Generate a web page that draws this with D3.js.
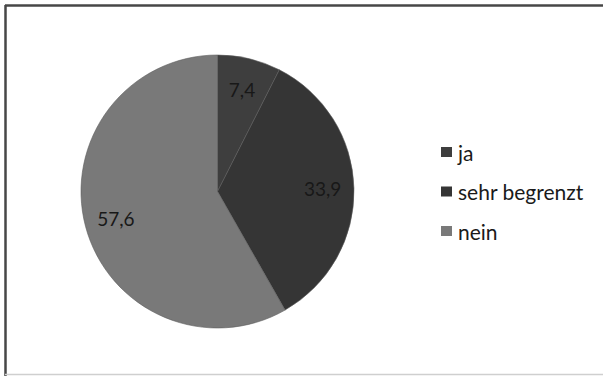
<!DOCTYPE html>
<html>
<head>
<meta charset="utf-8">
<script src="https://cdn.jsdelivr.net/npm/d3@7"></script>
<style>
  body { margin: 0; background: #fff; }
  svg { display: block; }
</style>
</head>
<body>
<script>
var categories = ["ja", "sehr begrenzt", "nein"];
var values = [7.4, 33.9, 57.6];
var labels = ["7,4", "33,9", "57,6"];
var colors = ["#3e3e3e", "#353535", "#797979"];

var width = 603, height = 376;
var svg = d3.select("body").append("svg").attr("width", width).attr("height", height);

// frame (dark top/left, pale bottom like the scan)
svg.append("line").attr("x1", 5).attr("y1", 5.5).attr("x2", 603).attr("y2", 5.5)
    .attr("stroke", "#474747").attr("stroke-width", 2.5);
svg.append("line").attr("x1", 5.5).attr("y1", 5).attr("x2", 5.5).attr("y2", 376)
    .attr("stroke", "#474747").attr("stroke-width", 2.5);
svg.append("line").attr("x1", 5).attr("y1", 374.5).attr("x2", 603).attr("y2", 374.5)
    .attr("stroke", "#cfcfcf").attr("stroke-width", 1.5);

var cx = 217.5, cy = 191.5, r = 136.5;

var pie = d3.pie().sort(null).value(function(d){ return d; });
var arcs = pie(values);
var arc = d3.arc().innerRadius(0).outerRadius(r);
var labelArc = d3.arc().innerRadius(r * 0.77).outerRadius(r * 0.77);

var g = svg.append("g").attr("transform", "translate(" + cx + "," + cy + ")");

g.selectAll("path")
  .data(arcs)
  .enter().append("path")
    .attr("d", arc)
    .attr("fill", function(d, i){ return colors[i]; })
    .attr("stroke", "#5c5c5c")
    .attr("stroke-width", 0.6);

g.selectAll("text")
  .data(arcs)
  .enter().append("text")
    .attr("transform", function(d){ return "translate(" + labelArc.centroid(d) + ")"; })
    .attr("text-anchor", "middle")
    .attr("dominant-baseline", "central")
    .attr("font-family", "Lato, 'Open Sans', sans-serif")
    .attr("font-size", 19)
    .attr("fill", "#181818")
    .text(function(d, i){ return labels[i]; });

// legend
var legendY = d3.scalePoint().domain(categories).range([152, 231]);
var leg = svg.selectAll("g.legend")
  .data(categories)
  .enter().append("g")
    .attr("class", "legend")
    .attr("transform", function(d){ return "translate(441," + legendY(d) + ")"; });

leg.append("rect")
    .attr("x", 0).attr("y", -5)
    .attr("width", 11).attr("height", 10)
    .attr("fill", function(d, i){ return colors[i]; });

leg.append("text")
    .attr("x", 17)
    .attr("y", 0)
    .attr("dominant-baseline", "central")
    .attr("font-family", "Lato, 'Open Sans', sans-serif")
    .attr("font-size", 21)
    .attr("fill", "#1a1a1a")
    .text(function(d){ return d; });
</script>
</body>
</html>
